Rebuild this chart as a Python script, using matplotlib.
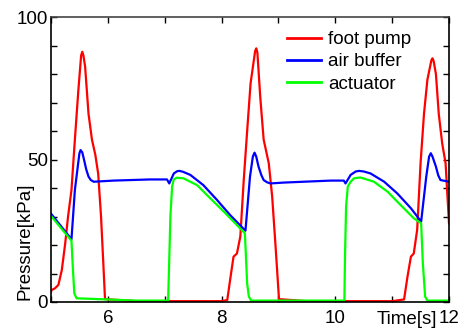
import matplotlib
matplotlib.use("Agg")
import matplotlib.pyplot as plt

plt.rcParams['font.family'] = ['Liberation Sans', 'DejaVu Sans']

# foot pump (red)
t_pump = [5.0, 5.01, 5.07, 5.13, 5.19, 5.25, 5.30, 5.36, 5.42, 5.48, 5.53, 5.55, 5.57, 5.60, 5.66, 5.72,
          5.78, 5.83, 5.88, 5.92, 5.95, 6.5, 7.0, 7.5, 8.0, 8.10,
          8.15, 8.21, 8.27, 8.33, 8.39, 8.45, 8.51, 8.59, 8.61, 8.63, 8.68, 8.74, 8.83, 8.89, 8.95, 9.01,
          9.5, 10.0, 10.5, 11.0, 11.21,
          11.27, 11.33, 11.38, 11.44, 11.50, 11.56, 11.62, 11.69, 11.71, 11.73, 11.77, 11.82, 11.88, 11.94, 12.0]
p_pump = [3.5, 4.2, 4.8, 6.0, 11.2, 20.6, 30.0, 39.3, 57.0, 74.0, 86.5, 87.8, 86.5, 82.6, 66.0, 57.0,
          51.6, 45.0, 30.0, 13.6, 1.0, 0.3, 0.3, 0.3, 0.3, 0.7,
          7.7, 15.9, 17.0, 23.0, 42.8, 60.0, 76.7, 88.0, 89.0, 87.5, 72.0, 57.0, 48.7, 37.0, 19.4, 1.0,
          0.3, 0.3, 0.3, 0.3, 0.9,
          8.9, 15.9, 17.0, 25.3, 48.7, 66.0, 78.0, 84.8, 85.5, 84.5, 80.0, 66.0, 55.7, 48.7, 27.6]

# air buffer (blue)
t_buf = [5.0, 5.36, 5.42, 5.48, 5.50, 5.52, 5.55, 5.58, 5.62, 5.66, 5.70, 5.75, 6.10, 6.74, 7.04,
         7.08, 7.16, 7.22, 7.26, 7.32, 7.45, 7.68, 7.92, 8.15, 8.42, 8.50, 8.55, 8.58, 8.61, 8.65,
         8.70, 8.74, 8.80, 8.86, 9.09, 9.92, 10.15, 10.18, 10.27, 10.36, 10.42, 10.50, 10.62,
         10.86, 11.09, 11.33, 11.51, 11.60, 11.65, 11.68, 11.71, 11.77, 11.81, 11.85, 12.0]
p_buf = [31.0, 22.0, 39.3, 49.0, 52.2, 53.3, 52.5, 50.0, 46.5, 44.0, 42.8, 42.2, 42.6, 43.0, 43.0,
         41.6, 45.1, 45.9, 46.0, 45.7, 44.6, 41.0, 35.8, 30.5, 25.0, 44.0, 51.0, 52.4, 51.0, 47.5,
         44.5, 42.8, 42.0, 41.6, 41.9, 42.6, 42.6, 41.6, 44.6, 45.8, 46.0, 45.8, 45.1,
         42.2, 38.1, 32.9, 28.2, 44.0, 51.0, 52.2, 51.0, 47.5, 44.5, 42.8, 42.2]

# actuator (green)
t_act = [5.0, 5.36, 5.38, 5.41, 5.45, 6.5, 7.06, 7.08, 7.10, 7.13, 7.16, 7.21, 7.33, 7.57,
         7.80, 8.04, 8.27, 8.41, 8.45, 8.48, 8.52, 9.5, 10.16, 10.17, 10.19, 10.22, 10.27,
         10.33, 10.44, 10.68, 10.92, 11.15, 11.38, 11.51, 11.54, 11.58, 11.62, 12.0]
p_act = [30.2, 21.5, 13.6, 3.0, 1.3, 0.5, 0.5, 15.0, 30.0, 40.5, 43.0, 43.6, 43.4, 41.0,
         36.4, 31.7, 27.0, 24.1, 6.5, 1.9, 0.5, 0.5, 0.5, 15.0, 33.5, 40.5, 42.2,
         43.4, 43.7, 42.2, 38.7, 34.0, 29.4, 27.6, 13.6, 1.9, 0.5, 0.5]

xticks = [5, 6, 7, 8, 9, 10, 11, 12]
xtick_labels = ['', '6', '', '8', '', '10', '', '12']
yticks = [0, 10, 20, 30, 40, 50, 60, 70, 80, 90, 100]
ytick_labels = ['0', '', '', '', '', '50', '', '', '', '', '100']

fig = plt.figure(figsize=(4.65, 3.29), dpi=100)
ax = fig.add_axes([51/465, 27/329, 398/465, 285/329])

lw = 1.6
ax.plot(t_pump, p_pump, color='#ff0000', lw=lw, label='foot pump')
ax.plot(t_buf, p_buf, color='#0000ff', lw=lw, label='air buffer')
ax.plot(t_act, p_act, color='#00ff00', lw=lw, label='actuator')

ax.set_xlim(5, 12)
ax.set_ylim(0, 100)
ax.set_xticks(xticks)
ax.set_xticklabels(xtick_labels)
ax.set_yticks(yticks)
ax.set_yticklabels(ytick_labels)
ax.tick_params(direction='in', top=True, right=True, length=4.5, width=1,
               labelsize=13.5, colors='black')
ax.tick_params(axis='x', pad=6)
ax.tick_params(axis='y', pad=2)
for s in ax.spines.values():
    s.set_linewidth(1.2)
    s.set_color('black')
ax.spines['top'].set_color('#444444')

ax.set_xlabel('Time[s]', fontsize=13.5, ha='right', va='top')
ax.xaxis.set_label_coords(0.97, -0.03)
ax.set_ylabel('Pressure[kPa]', fontsize=13.5, loc='bottom')
ax.yaxis.set_label_coords(-0.045, 0.007)

leg = ax.legend(loc='upper left', bbox_to_anchor=(0.593, 0.951), frameon=False,
                fontsize=13.5, borderpad=0, borderaxespad=0, handlelength=1.8,
                handletextpad=0.4, labelspacing=0.28)
for h in leg.get_lines():
    h.set_linewidth(2)

fig.savefig('out.png', dpi=100)
